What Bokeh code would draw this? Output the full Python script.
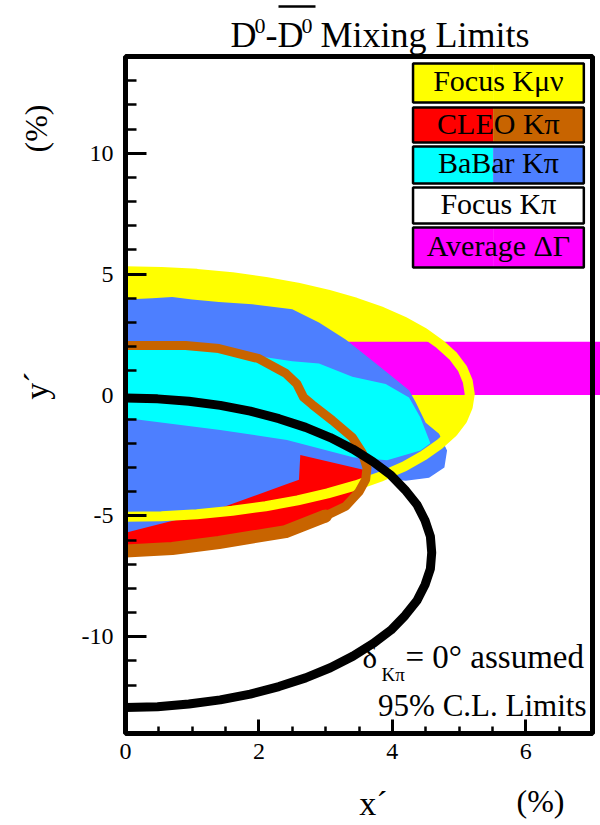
import math
from bokeh.plotting import figure
from bokeh.models import Range1d, FixedTicker, Label, LinearAxis
from bokeh.embed import file_html
from bokeh.resources import INLINE

# ---- data: 95% C.L. contours in the (x', y') plane, in percent ----
# Focus K mu nu contour (x' >= 0 half)
KMUNU_X = [0.0, 0.54, 1.07, 1.6, 2.1, 2.58, 3.03, 3.45, 3.84, 4.18, 4.47, 4.71, 4.91, 5.05, 5.13, 5.16,
           5.13, 5.05, 4.91, 4.71, 4.47, 4.18, 3.84, 3.45, 3.03, 2.58, 2.1, 1.6, 1.07, 0.54, 0.0]
KMUNU_Y = [5.12, 5.09, 5.01, 4.87, 4.68, 4.44, 4.15, 3.82, 3.44, 3.03, 2.58, 2.11, 1.61, 1.1, 0.57, 0.04,
           -0.49, -1.02, -1.53, -2.03, -2.5, -2.95, -3.36, -3.74, -4.07, -4.36, -4.6, -4.79, -4.93, -5.01, -5.04]

# Focus K pi contour (strong phase assumed zero)
FOCUS_KPI_X = [0.0, 0.48, 0.95, 1.42, 1.87, 2.3, 2.7, 3.07, 3.41, 3.71, 3.98, 4.19, 4.37, 4.49, 4.57, 4.59,
               4.57, 4.49, 4.37, 4.19, 3.98, 3.71, 3.41, 3.07, 2.7, 2.3, 1.87, 1.42, 0.95, 0.48, 0.0]
FOCUS_KPI_Y = [-0.12, -0.16, -0.26, -0.43, -0.67, -0.98, -1.34, -1.76, -2.24, -2.76, -3.32, -3.92, -4.54, -5.19, -5.85, -6.52,
               -7.19, -7.85, -8.5, -9.12, -9.72, -10.28, -10.8, -11.28, -11.7, -12.06, -12.37, -12.61, -12.78, -12.89, -12.92]

# Average Delta Gamma band in y'
DGAMMA_LO, DGAMMA_HI = 0.0, 2.2

# BaBar K pi: outer region
BABAR_OUT_X = [0.0, 0.4, 0.7, 1.0, 1.4, 1.9, 2.5, 2.9, 3.3, 3.8, 4.25, 4.35, 4.5, 4.7,
               4.82, 4.78, 4.55, 4.2, 3.85, 3.62, 3.55, 2.62, 2.6, 2.4, 2.0, 1.5, 1.0, 0.5, 0.0]
BABAR_OUT_Y = [3.95, 4.0, 4.05, 3.95, 3.85, 3.75, 3.55, 3.0, 2.3, 1.2, 0.2, -0.3, -1.15, -1.6,
               -2.3, -3.0, -3.42, -3.55, -3.45, -3.25, -3.08, -2.48, -3.5, -3.7, -4.1, -4.6, -5.0, -5.35, -5.7]

# BaBar K pi: inner region
BABAR_IN_X = [0.0, 1.0, 2.0, 2.5, 2.9, 3.4, 3.9, 4.25, 4.42, 4.57, 4.42, 3.92, 3.41, 2.42, 1.42, 0.0]
BABAR_IN_Y = [2.0, 1.95, 1.6, 1.4, 1.3, 0.75, 0.45, -0.1, -0.93, -2.0, -2.3, -2.7, -2.57, -1.86, -1.45, -0.95]

# CLEO K pi contour
CLEO_X = [0.0, 0.9, 1.4, 2.0, 2.4, 2.57, 2.67, 2.8, 3.1, 3.4, 3.55, 3.62, 3.6, 3.5, 3.3, 3.0, 2.4, 1.4, 0.7, 0.0]
CLEO_Y = [2.05, 2.05, 1.92, 1.5, 0.9, 0.45, -0.1, -0.4, -1.05, -1.75, -2.4, -3.0, -3.5, -4.0, -4.6, -5.0, -5.65, -6.1, -6.35, -6.45]

# axis ticks
X_MAJOR = [0, 2, 4, 6]
X_MINOR = [0.5, 1, 1.5, 2.5, 3, 3.5, 4.5, 5, 5.5, 6.5]
Y_MAJOR = [-10, -5, 0, 5, 10]
Y_MINOR = [v for v in range(-14, 15) if v % 5 != 0]

# legend entries: label, left colour, right colour
LEGEND = [
    ("Focus K\u03bc\u03bd", "#ffff00", "#ffff00"),
    ("CLEO K\u03c0", "#ff0000", "#c86400"),
    ("BaBar K\u03c0", "#00ffff", "#4d7fff"),
    ("Focus K\u03c0", "#ffffff", "#ffffff"),
    ("Average \u0394\u0393", "#ff00ff", "#ff00ff"),
]

YELLOW = "#ffff00"
MAGENTA = "#ff00ff"
RED = "#ff0000"
BROWN = "#c86400"
BLUE = "#4d7fff"
CYAN = "#00ffff"
SERIF = "Liberation Serif"

# plotting window in data units; the canvas reaches past it so that the
# titles and tick labels can sit outside the box
XMIN, XMAX, YMIN, YMAX = 0.0, 7.0, -14.0, 14.0
W, H = 600, 825
BOX_L, BOX_R, BOX_T, BOX_B = 125.0, 592.0, 56.0, 733.0   # box edges in pixels
SX = (BOX_R - BOX_L) / (XMAX - XMIN)
SY = (BOX_B - BOX_T) / (YMAX - YMIN)


def dx(px):
    return XMIN + (px - BOX_L) / SX


def dy(py):
    return YMAX - (py - BOX_T) / SY


p = figure(width=W, height=H, x_range=Range1d(dx(0), dx(W)), y_range=Range1d(dy(H), dy(0)),
           output_backend="svg", toolbar_location=None,
           x_axis_location=None, y_axis_location=None,
           min_border=0, min_border_left=0, min_border_right=0,
           min_border_top=0, min_border_bottom=0)
p.grid.visible = False
p.outline_line_color = None
p.background_fill_color = "white"
p.border_fill_color = "white"

# Focus K mu nu filled region
p.patch(KMUNU_X, KMUNU_Y, fill_color=YELLOW, line_color=None)
# Delta Gamma band (it runs out past the right edge of the box)
p.quad(left=XMIN, right=dx(W + 10), bottom=DGAMMA_LO, top=DGAMMA_HI, fill_color=MAGENTA, line_color=None)
# CLEO interior
p.patch(CLEO_X, CLEO_Y, fill_color=RED, line_color=None)
# BaBar regions
p.patch(BABAR_OUT_X, BABAR_OUT_Y, fill_color=BLUE, line_color=None)
p.patch(BABAR_IN_X, BABAR_IN_Y, fill_color=CYAN, line_color=None)
# Focus K mu nu contour on top
p.line(KMUNU_X, KMUNU_Y, line_color=YELLOW, line_width=10, line_join="round")
# CLEO contour, heavier along the lower branch (rounded where it widens,
# flat where it meets the y' axis)
p.line(CLEO_X, CLEO_Y, line_color=BROWN, line_width=9, line_join="round")
p.line(CLEO_X[15:], CLEO_Y[15:], line_color=BROWN, line_width=13, line_join="round")
p.scatter([CLEO_X[15]], [CLEO_Y[15]], marker="circle", size=13, fill_color=BROWN, line_color=None)
# Focus K pi contour
p.line(FOCUS_KPI_X, FOCUS_KPI_Y, line_color="black", line_width=9, line_join="round")

# frame
p.quad(left=XMIN, right=XMAX, bottom=YMIN, top=YMAX, fill_color=None,
       line_color="black", line_width=5)

# axes pinned to the box edges
xaxis = LinearAxis(fixed_location=YMIN)
yaxis = LinearAxis(fixed_location=XMIN)
p.add_layout(xaxis, "below")
p.add_layout(yaxis, "left")
for ax, major, minor, tin, tmin, stand in (
        (xaxis, X_MAJOR, X_MINOR, 14, 7, 10),
        (yaxis, Y_MAJOR, Y_MINOR, 21, 11, 12)):
    ax.ticker = FixedTicker(ticks=major, minor_ticks=minor)
    ax.major_label_overrides = {v: str(v) for v in major}
    ax.major_tick_in = tin
    ax.major_tick_out = 0
    ax.minor_tick_in = tmin
    ax.minor_tick_out = 0
    ax.major_tick_line_width = 3
    ax.minor_tick_line_width = 2.5
    ax.axis_line_color = None
    ax.major_label_text_font = SERIF
    ax.major_label_text_font_size = "24px"
    ax.major_label_text_color = "black"
    ax.major_label_standoff = stand

# legend boxes
LEG_L, LEG_M, LEG_R = 4.31, 5.51, 6.87
leg_tops = [13.71, 11.89, 10.28, 8.58, 6.93]
leg_bots = [12.10, 10.44, 8.75, 7.09, 5.27]
for (name, c1, c2), t, b in zip(LEGEND, leg_tops, leg_bots):
    p.quad(left=LEG_L, right=LEG_M, bottom=b, top=t, fill_color=c1, line_color=None)
    p.quad(left=LEG_M, right=LEG_R, bottom=b, top=t, fill_color=c2, line_color=None)
    p.quad(left=LEG_L, right=LEG_R, bottom=b, top=t, fill_color=None, line_color="black", line_width=2.5)
    p.add_layout(Label(x=(LEG_L + LEG_R) / 2, y=(t + b) / 2 + 2.0 / SY,
                       text=name, text_font=SERIF,
                       text_font_size="30px", text_align="center", text_baseline="middle",
                       text_color="black"))

# offset between the requested and the drawn alphabetic baseline, per em
BASE_SHIFT = 0.36


def txt(px, py, s, size, align="left", angle=0.0):
    fs = float(size.rstrip("px"))
    if angle:
        x, y = dx(px - BASE_SHIFT * fs), dy(py)
    else:
        x, y = dx(px), dy(py - BASE_SHIFT * fs)
    p.add_layout(Label(x=x, y=y, text=s, text_font=SERIF, text_font_size=size,
                       text_align=align, text_baseline="alphabetic", angle=angle,
                       text_color="black"))


# title: D0 - D0bar Mixing Limits
txt(230, 47, "D", "36px")
txt(254, 33, "0", "22px")
txt(265, 47, "-D", "36px")
txt(301, 33, "0", "22px")
txt(320, 47, "Mixing Limits", "36px")
p.line([dx(278), dx(315)], [dy(6), dy(6)], line_color="black", line_width=2.5)

# annotations inside the box
txt(362, 668, "\u03b4", "31px")
txt(381, 681, "K\u03c0", "19px")
txt(405, 668, "= 0\u00b0 assumed", "33px")
txt(586, 716, "95% C.L. Limits", "31px", align="right")

# axis titles
txt(373, 815, "x\u00b4", "34px", align="center")
txt(540, 812, "(%)", "32px", align="center")
txt(48, 385, "y\u00b4", "34px", align="center", angle=math.pi / 2)
txt(47, 128, "(%)", "32px", align="center", angle=math.pi / 2)

open("out.html", "w").write(file_html(p, INLINE))
